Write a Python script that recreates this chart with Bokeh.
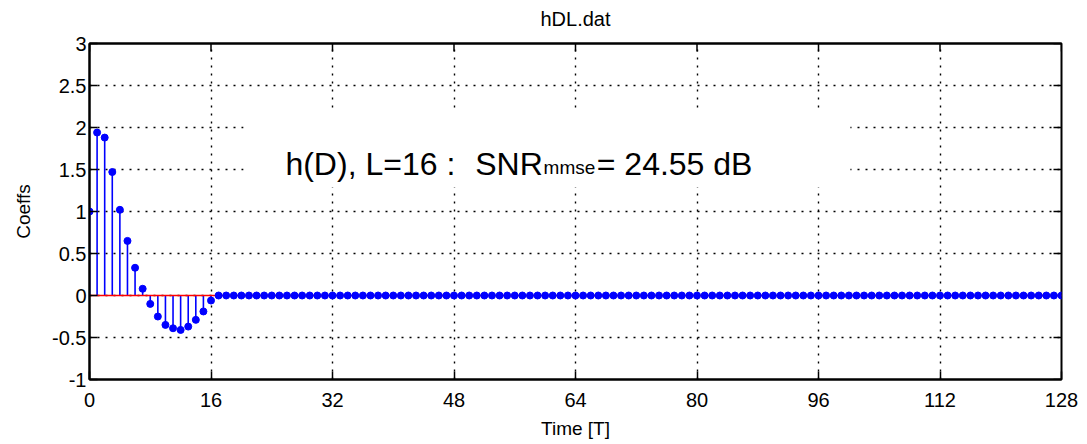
import math
from bokeh.plotting import figure
from bokeh.models import Range1d, FixedTicker, Label, BoxAnnotation, LinearAxis
from bokeh.embed import file_html
from bokeh.resources import INLINE

# ---- data ----
taps = [1.0, 1.94, 1.88, 1.47, 1.02, 0.65, 0.33, 0.08, -0.10, -0.25,
        -0.35, -0.39, -0.41, -0.37, -0.29, -0.19, -0.06]
tail = [0.0] * 112
coeffs = taps + tail
n = list(range(len(coeffs)))

x_ticks = [0, 16, 32, 48, 64, 80, 96, 112, 128]
y_ticks = [-1, -0.5, 0, 0.5, 1, 1.5, 2, 2.5, 3]

title_text = "hDL.dat"
x_label = "Time [T]"
y_label = "Coeffs"
ann_a = "h(D), L=16 :"
ann_b = "SNR"
ann_sub = "mmse"
ann_c = "= 24.55 dB"

FONT = "Liberation Sans"
X0, X1 = x_ticks[0], x_ticks[-1]
Y0, Y1 = y_ticks[0], y_ticks[-1]

p = figure(width=1087, height=444, output_backend="svg", toolbar_location=None,
           x_range=Range1d(X0, X1), y_range=Range1d(Y0, Y1),
           min_border_left=89, min_border_right=26, min_border_top=43, min_border_bottom=65,
           background_fill_color="white", border_fill_color="white")

p.outline_line_color = "black"
p.outline_line_width = 2

# grid
p.xgrid.ticker = FixedTicker(ticks=x_ticks)
p.ygrid.ticker = FixedTicker(ticks=y_ticks)
for g in (p.xgrid, p.ygrid):
    g.grid_line_color = "black"
    g.grid_line_width = 1.4
    g.grid_line_dash = "2 6"

def style_axis(ax, ticks):
    ax.ticker = FixedTicker(ticks=ticks)
    ax.axis_line_color = "black"
    ax.axis_line_width = 2
    ax.major_tick_in = 8
    ax.major_tick_out = 0
    ax.major_tick_line_width = 1.5
    ax.major_tick_line_color = "black"
    ax.minor_tick_line_color = None
    ax.major_label_text_font = FONT
    ax.major_label_text_color = "black"
    ax.major_label_text_font_size = "20px"
    ax.axis_label_text_font = FONT
    ax.axis_label_text_font_size = "19px"
    ax.axis_label_text_font_style = "normal"
    ax.axis_label_text_color = "black"
    ax.major_label_overrides = {t: f"{t:g}" for t in ticks}

style_axis(p.xaxis[0], x_ticks)
style_axis(p.yaxis[0], y_ticks)
p.xaxis.axis_label = x_label
p.yaxis.axis_label = y_label
p.xaxis.major_label_standoff = 13
p.xaxis.axis_label_standoff = 8
p.yaxis.major_label_standoff = 3
p.yaxis.axis_label_standoff = 15

# title carried by a tick-less top axis
top_ax = LinearAxis(ticker=FixedTicker(ticks=[]), axis_label=title_text,
                    axis_label_text_font=FONT, axis_label_text_font_size="20px",
                    axis_label_text_font_style="normal", axis_label_text_color="black",
                    axis_label_standoff=14, axis_line_color="black", axis_line_width=2,
                    major_tick_line_color=None, minor_tick_line_color=None,
                    major_label_standoff=0)
p.add_layout(top_ax, "above")

# inward ticks on top and right edges (mirroring the axes)
p.ray(x=x_ticks, y=[Y1] * len(x_ticks), length=8, length_units="screen",
      angle=-math.pi / 2, line_color="black", line_width=1.5)
p.ray(x=[X1] * len(y_ticks), y=y_ticks, length=8, length_units="screen",
      angle=math.pi, line_color="black", line_width=1.5)

# annotation background (covers grid)
p.add_layout(BoxAnnotation(left=20.3, right=100.2, bottom=1.29, top=2.2,
                           fill_color="white", fill_alpha=1.0, line_color=None))

# stems
p.segment(x0=n, y0=[0] * len(n), x1=n, y1=coeffs, line_color="blue", line_width=1.6)
p.line(x=[n[0], n[-1]], y=[0, 0], line_color="red", line_width=1.6)
p.scatter(x=n, y=coeffs, size=7, fill_color="blue", line_color="blue")

# annotation text
p.add_layout(Label(x=25.8, y=1.571, text=ann_a, text_font=FONT, text_font_size="32px",
                   text_baseline="alphabetic", text_align="left", text_color="black"))
p.add_layout(Label(x=50.8, y=1.571, text=ann_b, text_font=FONT, text_font_size="32px",
                   text_baseline="alphabetic", text_align="left", text_color="black"))
p.add_layout(Label(x=59.8, y=1.52, text=ann_sub, text_font=FONT, text_font_size="19px",
                   text_baseline="alphabetic", text_align="left", text_color="black"))
p.add_layout(Label(x=66.8, y=1.571, text=ann_c, text_font=FONT, text_font_size="32px",
                   text_baseline="alphabetic", text_align="left", text_color="black"))

open("out.html", "w").write(file_html(p, INLINE))
